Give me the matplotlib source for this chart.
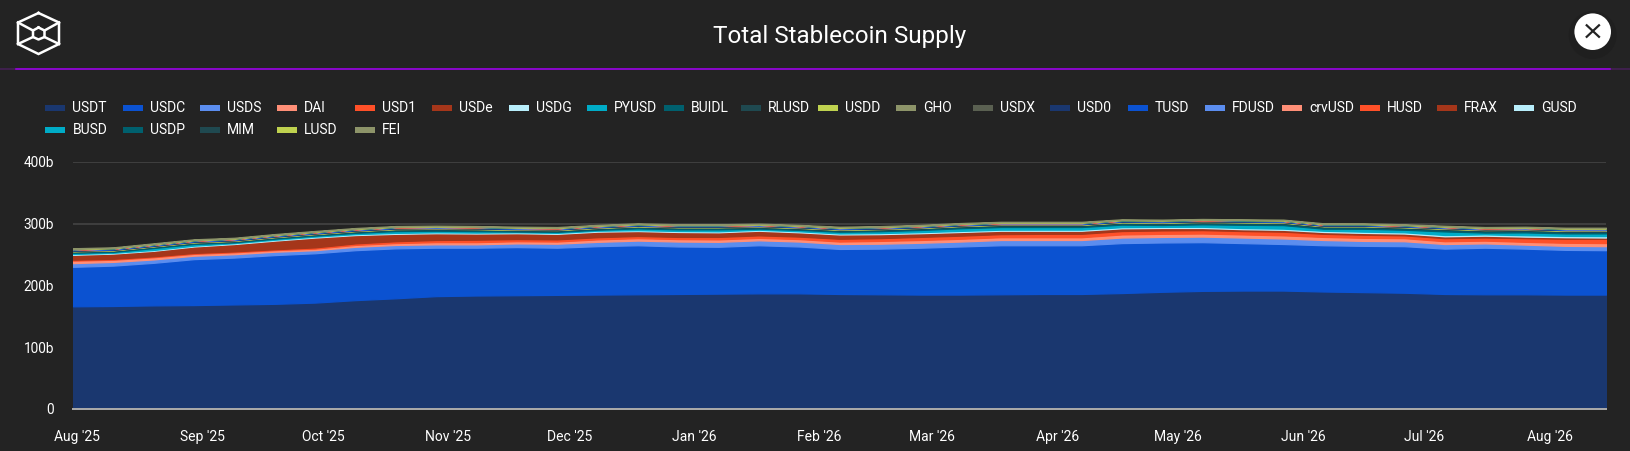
#!/usr/bin/env python3
"""Total Stablecoin Supply: stacked area on the dark dashboard panel."""
import pandas as pd
import matplotlib
matplotlib.use("Agg")
import matplotlib.pyplot as plt
from matplotlib.patches import Circle, Rectangle

W, H = 1630, 451
BG = "#232323"
PX = 72 / 100  # one pixel in points at dpi 100

plt.rcParams.update({"font.family": ["Roboto", "DejaVu Sans"], "text.color": "white"})

# values in billions, one sample every 10 days from 31 Jul 2025
dates = pd.date_range("2025-07-31", periods=39, freq="10D")

USDT = [166, 166.5, 167.5, 168, 169, 170, 172, 176, 179, 182.5, 183.5, 184, 184.5, 185, 185.5, 186, 186.5, 187, 187,
        186, 185.5, 185, 185, 185.5, 186, 186, 187.5, 189.5, 191, 191.5, 191.5, 190, 189, 188, 186, 185.5, 185.5, 185, 185]
USDC = [64, 65.5, 69, 74.5, 76, 79, 80, 81, 81, 78.5, 77.5, 78, 76.5, 78.5, 79.5, 77, 76, 78, 76,
        73, 74, 76, 78, 79.5, 79, 79, 81, 80, 79, 77, 75.5, 75, 75, 75.5, 73.5, 75.5, 74, 72.5, 72]
USDS = [6, 6, 5.5, 5.5, 5.5, 5.5, 5, 5.5, 5.5, 5.5, 5.5, 6, 6.5, 7, 7.5, 8, 8, 8, 8,
        8, 8, 8, 8, 8.5, 8.5, 8.5, 9, 9, 9, 9, 9, 8.5, 8, 8, 7.5, 7, 6.5, 6.5, 6.5]
DAI = [4, 3.5, 3.5, 3, 3, 2.5, 2.5, 3, 3, 3.5, 3.5, 3.5, 3.5, 4, 4, 4, 4, 4, 4,
       4, 4.5, 4.5, 4.5, 4.5, 4.5, 4.5, 5, 5, 5, 5, 5, 5, 5, 5, 4.5, 4.5, 4.5, 5, 5]
USD1 = [1.5, 1.5, 1.5, 1.5, 1.5, 1.5, 2, 2.5, 3, 3.5, 4, 3.5, 3.5, 3.5, 3.5, 3.5, 4, 4, 4,
        4.5, 4.5, 5, 5, 5, 5.5, 5.5, 5.5, 5.5, 5.5, 5.5, 6, 5, 5, 4.5, 5, 5, 6, 6.5, 7]
USDe = [8, 8.5, 9, 10.5, 12, 14, 16, 13.5, 12, 11, 10, 9.5, 9, 9, 8, 8, 7.5, 7.5, 7,
        7, 6.5, 6, 6, 5.5, 5, 5, 4.5, 4, 3.5, 3, 3, 3, 3, 3, 3, 3, 2.5, 2.5, 2]
USDG = [1.2, 1.2, 1.3, 1.3, 1.3, 1.4, 1.4, 1.5, 1.5, 1.5, 1.5, 1.5, 1.5, 1.5, 1.5, 1.6, 1.6, 1.6, 1.6,
        1.6, 1.7, 1.7, 1.7, 1.7, 1.8, 1.8, 1.8, 1.8, 1.9, 1.9, 1.9, 2, 2, 2, 2.1, 2.1, 2.2, 2.2, 2.3]
PYUSD = [2.0, 1.5, 3.2, 2.7, 1.4, 1.7, 1.7, 2.1, 3.0, 2.5, 2.4, 1.2, 1.6, 1.6, 2.8, 2.7, 3.1, 1.8, 2.3,
         2.8, 3.0, 3.5, 4.3, 4.3, 4.2, 4.2, 4.1, 3.0, 4.0, 5.2, 5.7, 3.3, 4.7, 4.1, 5.8, 2.9, 4.6, 4.0, 4.4]
BUIDL = [2, 2, 2.1, 2.1, 1.9, 1.9, 1.9, 2.1, 2.3, 2.3, 2.3, 2, 2, 2, 2.2, 2.2, 2.2, 2, 2,
         2, 2.1, 2.1, 2.3, 2.3, 2.3, 2.3, 2.4, 2.4, 2.4, 2.6, 2.6, 2.5, 2.6, 2.6, 2.8, 2.6, 2.8, 2.8, 2.8]
RLUSD = [.4, .4, .5, .5, .5, .6, .6, .7, .8, .9, .9, .9, 1, 1, 1.1, 1.1, 1.2, 1.2, 1.2,
         1.2, 1.3, 1.3, 1.3, 1.3, 1.3, 1.3, 1.3, 1.4, 1.4, 1.4, 1.4, 1.4, 1.4, 1.4, 1.5, 1.5, 1.5, 1.5, 1.5]
USDD = [.5, .5, .5, .5, .5, .5, .5, .5, .5, .5, .5, .5, .5, .5, .5, .5, .5, .5, .5,
        .5, .5, .5, .5, .5, .5, .5, .5, .5, .5, .5, .5, .5, .5, .5, .5, .5, .5, .5, .5]
GHO = [.3, .3, .3, .3, .3, .3, .3, .3, .4, .4, .4, .4, .4, .4, .4, .4, .4, .4, .4,
       .4, .4, .4, .4, .4, .4, .4, .4, .4, .4, .4, .4, .4, .4, .5, .5, .5, .5, .5, .5]
USDX = [.7, .7, .7, .7, .7, .7, .7, .7, .7, .7, .7, .7, .6, .6, .6, .6, .6, .6, .6,
        .6, .6, .6, .6, .6, .6, .6, .6, .6, .6, .6, .6, .6, .5, .5, .5, .5, .5, .5, .5]
USD0 = [.4, .4, .4, .4, .4, .4, .4, .4, .4, .4, .4, .4, .4, .4, .4, .4, .4, .4, .4,
        .4, .4, .4, .4, .4, .4, .4, .4, .4, .4, .4, .4, .4, .4, .4, .4, .4, .4, .4, .4]
TUSD = [.5, .5, .5, .5, .5, .5, .5, .5, .5, .5, .5, .5, .5, .5, .5, .5, .5, .5, .5,
        .5, .5, .5, .5, .5, .5, .5, .5, .5, .5, .5, .5, .5, .5, .5, .5, .5, .5, .5, .5]
FDUSD = [.5, .5, .5, .5, .5, .5, .5, .5, .4, .4, .4, .4, .4, .4, .4, .4, .4, .4, .4,
         .4, .4, .4, .4, .4, .4, .4, .4, .4, .4, .4, .4, .4, .4, .4, .4, .4, .4, .4, .4]
crvUSD = [.2, .2, .2, .2, .2, .2, .2, .2, .2, .2, .2, .2, .2, .2, .2, .2, .2, .2, .2,
          .2, .2, .2, .2, .2, .2, .2, .2, .2, .2, .2, .2, .2, .2, .2, .2, .2, .2, .2, .2]
HUSD = [.1, .1, .1, .1, .1, .1, .1, .1, .1, .1, .1, .1, .1, .1, .1, .1, .1, .1, .1,
        .1, .1, .1, .1, .1, .1, .1, .1, .1, .1, .1, .1, .1, .1, .1, .1, .1, .1, .1, .1]
FRAX = [.3, .3, .3, .3, .3, .3, .3, .3, .3, .3, .3, .3, .3, .3, .3, .3, .3, .3, .3,
        .3, .3, .3, .3, .3, .3, .3, .3, .3, .3, .3, .3, .3, .3, .3, .3, .3, .3, .3, .3]
GUSD = [.1, .1, .1, .1, .1, .1, .1, .1, .1, .1, .1, .1, .1, .1, .1, .1, .1, .1, .1,
        .1, .1, .1, .1, .1, .1, .1, .1, .1, .1, .1, .1, .1, .1, .1, .1, .1, .1, .1, .1]
BUSD = [.1, .1, .1, .1, .1, .1, .1, .1, .1, .1, .1, .1, .1, .1, .1, .1, .1, .1, .1,
        .1, .1, .1, .1, .1, .1, .1, .1, .1, .1, .1, .1, .1, .1, .1, .1, .1, .1, .1, .1]
USDP = [.1, .1, .1, .1, .1, .1, .1, .1, .1, .1, .1, .1, .1, .1, .1, .1, .1, .1, .1,
        .1, .1, .1, .1, .1, .1, .1, .1, .1, .1, .1, .1, .1, .1, .1, .1, .1, .1, .1, .1]
MIM = [.1, .1, .1, .1, .1, .1, .1, .1, .1, .1, .1, .1, .1, .1, .1, .1, .1, .1, .1,
       .1, .1, .1, .1, .1, .1, .1, .1, .1, .1, .1, .1, .1, .1, .1, .1, .1, .1, .1, .1]
LUSD = [.1, .1, .1, .1, .1, .1, .1, .1, .1, .1, .1, .1, .1, .1, .1, .1, .1, .1, .1,
        .1, .1, .1, .1, .1, .1, .1, .1, .1, .1, .1, .1, .1, .1, .1, .1, .1, .1, .1, .1]
FEI = [1.1, 1.1, 1.1, 1.1, 1.1, 1.1, 1.1, 1.1, 1.1, 1.1, 1.1, 1.1, 1.1, 1.1, 1.1, 1.1, 1.1, 1.1, 1.1,
       1.1, 1.1, 1.1, 1.1, 1.1, 1.1, 1.1, 1.1, 1.1, 1.1, 1.1, 1.1, 1.1, 1.1, 1.1, 1.1, 1.1, 1.1, 1.1, 1.1]

names = ["USDT", "USDC", "USDS", "DAI", "USD1", "USDe", "USDG", "PYUSD", "BUIDL", "RLUSD", "USDD", "GHO", "USDX",
         "USD0", "TUSD", "FDUSD", "crvUSD", "HUSD", "FRAX", "GUSD", "BUSD", "USDP", "MIM", "LUSD", "FEI"]
series = [USDT, USDC, USDS, DAI, USD1, USDe, USDG, PYUSD, BUIDL, RLUSD, USDD, GHO, USDX,
          USD0, TUSD, FDUSD, crvUSD, HUSD, FRAX, GUSD, BUSD, USDP, MIM, LUSD, FEI]

palette = ["#1A376F", "#0B52D1", "#5B8DEF", "#FF8F77", "#FF5028", "#A5361A", "#B8EEFB",
           "#00ACC7", "#00606E", "#1F4950", "#BFD24F", "#8D9469", "#5A6051"]
colors = (palette + palette)[:len(names)]

month_ticks = pd.date_range("2025-08-01", "2026-08-01", freq="MS")
month_labels = [d.strftime("%b '%y") for d in month_ticks]
y_ticks = [0, 100, 200, 300, 400]
y_labels = ["0", "100b", "200b", "300b", "400b"]

fig = plt.figure(figsize=(W / 100, H / 100), dpi=100, facecolor=BG)

# ---- chart ----
L, R, TOP, BOT = 73, 1606, 162, 408.7
ax = fig.add_axes([L / W, 1 - BOT / H, (R - L) / W, (BOT - TOP) / H], facecolor=BG)
polys = ax.stackplot(dates, series, colors=colors)
for p, c in zip(polys, colors):
    p.set_edgecolor(c)
    p.set_linewidth(1.2 * PX)
ax.set_xlim(dates[0], dates[-1])
ax.set_ylim(0, 400)
for s in ax.spines.values():
    s.set_visible(False)
ax.set_axisbelow(True)
ax.grid(axis="y", color="#484848", lw=1.5 * PX)
ax.axhline(0, color="#a8a8a8", lw=2 * PX, zorder=5, clip_on=False)
ax.set_xticks(month_ticks, month_labels)
ax.set_yticks(y_ticks, y_labels)
ax.tick_params(axis="x", length=0, pad=15, labelsize=10, labelcolor="white")
ax.tick_params(axis="y", length=0, pad=13.5, labelsize=9.8, labelcolor="white")

# ---- page furniture, drawn in pixel coordinates ----
ov = fig.add_axes([0, 0, 1, 1], facecolor="none")
ov.set_xlim(0, W)
ov.set_ylim(H, 0)
ov.axis("off")

ov.text(839.5, 36.5, "Total Stablecoin Supply", ha="center", va="center", fontsize=17.5)

ov.plot([0, W], [68.5, 68.5], color="#47205A", lw=1.5 * PX)
ov.plot([16, 1610], [68.5, 68.5], color="#A000F0", lw=1.5 * PX)

# cube logo
hexa = [(38.5, 13), (59, 22.5), (59, 44), (38.5, 54), (18, 44), (18, 22.5), (38.5, 13)]
ov.plot(*zip(*hexa), color="white", lw=2.5 * PX, solid_joinstyle="miter")
inner = [(38.5, 27.5), (44.5, 30.5), (44.5, 37), (38.5, 39.5), (33, 37), (33, 30.5), (38.5, 27.5)]
ov.plot(*zip(*inner), color="white", lw=2.5 * PX)
for a, b in [((18, 22.5), (33, 30.5)), ((59, 22.5), (44.5, 30.5)), ((18, 44), (33, 37)), ((59, 44), (44.5, 37))]:
    ov.plot(*zip(a, b), color="white", lw=2.5 * PX)

# close button
ov.add_patch(Circle((1592.7, 35), 24, color="#1F1F1F", lw=0))
ov.add_patch(Circle((1592.7, 31.7), 18.3, color="white", lw=0))
ov.plot([1586.7, 1599], [25.3, 36.8], color=BG, lw=2.2 * PX)
ov.plot([1586.7, 1599], [36.8, 25.3], color=BG, lw=2.2 * PX)

# legend, wraps after 20 entries
for i, (name, c) in enumerate(zip(names, colors)):
    row, col = divmod(i, 20)
    sx = 45.4 + 77.3 * col
    sy = 108 + 22 * row
    ov.add_patch(Rectangle((sx, sy - 3), 20, 6, color=c, lw=0))
    ov.text(sx + 27, sy, name, va="center", ha="left", fontsize=10)

fig.savefig("out.png", dpi=100, facecolor=BG)
